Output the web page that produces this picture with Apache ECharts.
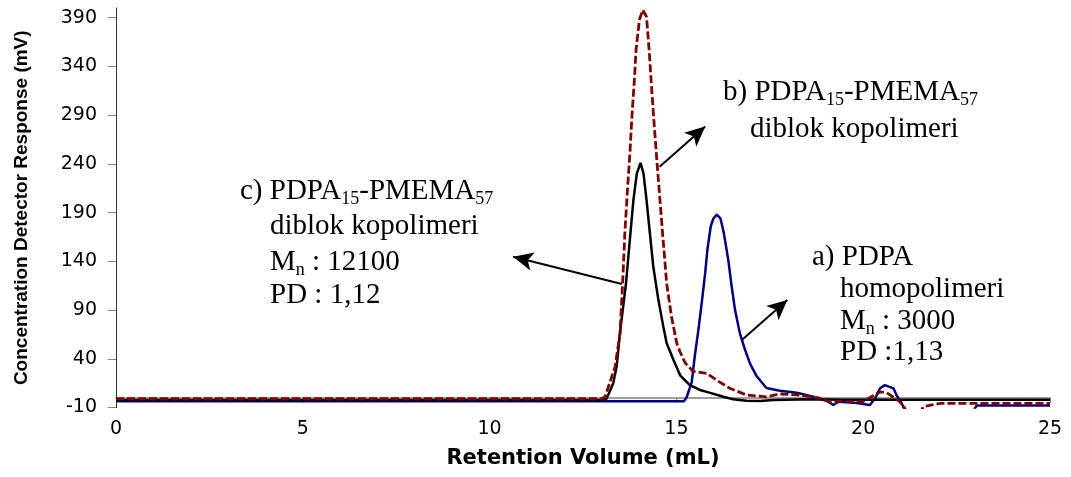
<!DOCTYPE html>
<html lang="en">
<head>
    <meta charset="UTF-8">
    <title>GPC chromatograms</title>
    <script src="https://cdn.jsdelivr.net/npm/echarts@6/dist/echarts.min.js"></script>
    <style>
        html, body { margin: 0; padding: 0; background: #fff; }
        #chart { width: 1071px; height: 477px; }
    </style>
</head>
<body>
<div id="chart"></div>
<script type="text/javascript">
    // a) PDPA homopolymer (blue)
    var curveA = [
        [0, -3.5], [15.2, -3.5], [15.27, 0], [15.41, 16], [15.5, 45], [15.59, 70], [15.68, 98],
        [15.77, 128], [15.83, 152], [15.92, 176], [15.99, 184], [16.08, 188], [16.18, 184],
        [16.27, 169], [16.39, 141], [16.48, 114], [16.57, 90], [16.7, 66], [16.84, 49],
        [16.97, 35], [17.15, 22], [17.41, 10], [17.77, 7.2], [18.22, 5.2], [18.66, 1],
        [19.02, -3], [19.2, -7.4], [19.34, -4], [19.74, -5], [20.18, -7.4], [20.32, -0.5],
        [20.45, 9.7], [20.58, 13], [20.81, 9.7], [20.89, 2.8], [21.03, -5.7], [21.15, -16],
        [22.9, -16], [23.04, -8], [25, -8]
    ];
    // b) PDPA15-PMEMA57 (dark red, dotted)
    var curveB = [
        [0, -1], [13.0, -1], [13.09, 1], [13.36, 32], [13.49, 66], [13.56, 117], [13.62, 169],
        [13.69, 213], [13.76, 254], [13.81, 289], [13.87, 323], [13.92, 357], [14.01, 388],
        [14.1, 398], [14.2, 391], [14.27, 357], [14.34, 316], [14.41, 278], [14.49, 237],
        [14.56, 203], [14.63, 169], [14.74, 117], [14.87, 83], [15.01, 56], [15.1, 47],
        [15.23, 36], [15.45, 27], [15.81, 25], [16.08, 18], [16.43, 9.7], [16.88, 2.8],
        [17.41, 1], [17.77, 3.9], [18.3, 2.8], [18.84, -0.5], [19.1, -4], [20.0, -4],
        [20.22, 1], [20.45, 6], [20.63, 5], [20.81, 0.5], [20.98, -4], [21.09, -9],
        [21.2, -18], [21.5, -18], [21.61, -9], [22.06, -5.7], [25, -5.7]
    ];
    // c) PDPA15-PMEMA57, Mn 12100 (black)
    var curveC = [
        [0, -2.2], [13.0, -2.2], [13.13, -1], [13.31, 15], [13.4, 32], [13.49, 66], [13.57, 92],
        [13.65, 117], [13.77, 169], [13.85, 203], [13.94, 230], [14.04, 241], [14.12, 230],
        [14.2, 203], [14.29, 169], [14.38, 135], [14.52, 100], [14.65, 73], [14.74, 56],
        [14.92, 39], [15.1, 23], [15.36, 13], [15.63, 8], [15.81, 6], [16.26, 1], [16.52, -1.5],
        [16.88, -3], [17.24, -3.3], [17.6, -2.3], [18.6, -1.6], [19.5, -2], [25, -2]
    ];
    var yTicks = [-10, 40, 90, 140, 190, 240, 290, 340, 390];

    // arrows: [from, tip] in data units
    var arrowC = [[13.54, 116.8], [10.63, 144.8]];
    var arrowB = [[14.55, 237.2], [15.77, 278.3]];
    var arrowA = [[16.75, 59.3], [17.97, 100.4]];

    var serif = '"Liberation Serif", "Times New Roman", serif';
    var sub = { fontSize: 18, fontFamily: serif, verticalAlign: 'bottom', lineHeight: 18 };

    function note(x, y, txt) {
        return {
            type: 'text', x: x, y: y, silent: true,
            style: {
                text: txt, fontFamily: serif, fontSize: 29, lineHeight: 34,
                fill: '#000', verticalAlign: 'middle', rich: { s: sub }
            }
        };
    }

    var chart = echarts.init(document.getElementById('chart'));

    var option = {
        animation: false,
        backgroundColor: '#fff',
        grid: { left: 116, right: 21, top: 8, bottom: 69.5, outerBoundsMode: 'none' },
        xAxis: {
            type: 'value', min: 0, max: 25, interval: 5,
            name: 'Retention Volume (mL)', nameLocation: 'middle', nameGap: 41,
            nameTextStyle: { fontFamily: 'DejaVu Sans', fontWeight: 'bold', fontSize: 21, color: '#000' },
            axisLine: { onZero: true, lineStyle: { color: '#808080', width: 1.5 } },
            axisTick: { length: 5, lineStyle: { color: '#808080' } },
            axisLabel: { margin: 12, fontFamily: 'DejaVu Sans', fontSize: 19, color: '#000' },
            splitLine: { show: false }
        },
        yAxis: {
            type: 'value', min: -10, max: 400,
            name: 'Concentration Detector Response (mV)', nameLocation: 'middle', nameRotate: 90, nameGap: 85,
            nameTextStyle: { fontFamily: 'Liberation Sans', fontWeight: 'bold', fontSize: 19, color: '#000' },
            axisLine: { show: true, lineStyle: { color: '#333', width: 1 } },
            axisTick: { show: true, length: 8, customValues: yTicks, lineStyle: { color: '#808080' } },
            axisLabel: { margin: 19, customValues: yTicks, fontFamily: 'DejaVu Sans', fontSize: 19, color: '#000' },
            splitLine: { show: false }
        },
        series: [
            {
                name: 'a', type: 'line', data: curveA, showSymbol: false, clip: true,
                lineStyle: { color: '#000080', width: 2.5 }, z: 2
            },
            {
                name: 'c', type: 'line', data: curveC, showSymbol: false, clip: true,
                lineStyle: { color: '#000', width: 2.5 }, z: 3,
                markLine: {
                    silent: true, animation: false,
                    symbol: ['none', 'arrow'], symbolSize: [14, 20],
                    lineStyle: { color: '#000', width: 2, type: 'solid' },
                    itemStyle: { color: '#000' },
                    label: { show: false },
                    data: [arrowC, arrowB, arrowA].map(function (a) {
                        return [{ coord: a[0] }, { coord: a[1] }];
                    })
                }
            },
            {
                name: 'b', type: 'line', data: curveB, showSymbol: false, clip: true,
                lineStyle: { color: '#800000', width: 2.8, type: [8, 3] }, z: 4
            }
        ],
        graphic: [
            note(723, 92, 'b) PDPA{s|15}-PMEMA{s|57}'),
            note(750, 129, 'diblok kopolimeri'),
            note(240, 191, 'c) PDPA{s|15}-PMEMA{s|57}'),
            note(270, 226, 'diblok kopolimeri'),
            note(270, 262, 'M{s|n} : 12100'),
            note(270, 295, 'PD : 1,12'),
            note(812, 257, 'a) PDPA'),
            note(840, 289, 'homopolimeri'),
            note(840, 321, 'M{s|n} : 3000'),
            note(840, 352, 'PD :1,13')
        ]
    };

    chart.setOption(option);
</script>
</body>
</html>
